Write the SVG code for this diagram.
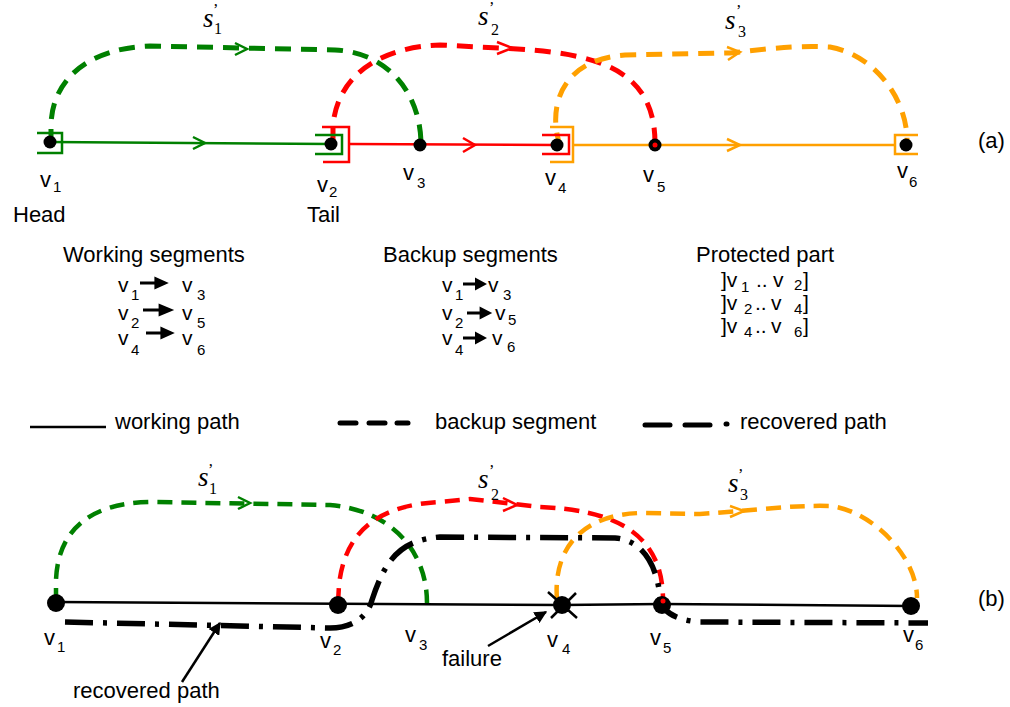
<svg xmlns="http://www.w3.org/2000/svg" width="1010" height="707" viewBox="0 0 1010 707">
<defs>
<style>
.t{font-family:"Liberation Sans",Arial,sans-serif;font-size:22px;fill:#000}
.tb{font-family:"Liberation Sans",Arial,sans-serif;font-size:21px;fill:#000}
.sub{font-size:15px}
.s{font-family:"Liberation Serif","Times New Roman",serif;font-style:italic;font-size:27px;fill:#000}
.ss{font-family:"Liberation Serif","Times New Roman",serif;font-size:16px;fill:#000}
.dot{fill:#000}
.w{fill:none;stroke-width:2.5}
.bk{fill:none;stroke-width:5;stroke-dasharray:16 10}
.bk2{fill:none;stroke-width:4.5;stroke-dasharray:15 9}
.chev{fill:none;stroke-width:2.5;stroke-linejoin:miter}
.br{fill:none;stroke-width:2.5}
.g{stroke:#008000}
.r{stroke:#ff0000}
.o{stroke:#ffa000}
.k{stroke:#000}
.rec{fill:none;stroke:#000;stroke-width:5.5;stroke-dasharray:28 10 4 10}
.ar{stroke:#000;fill:none}
</style>
<marker id="ah2" viewBox="0 0 10 10" refX="9" refY="5" markerWidth="5" markerHeight="5" orient="auto" markerUnits="strokeWidth">
<path d="M0,0 L10,5 L0,10 Z" fill="#000"/>
</marker>
<path id="tarr" d="M0,-1.6 H12 V-6.5 L24,0 L12,6.5 V1.6 H0 Z" fill="#000"/>
</defs>
<rect width="1010" height="707" fill="#fff"/>

<!-- ===== Part (a) ===== -->
<g id="connectors-a">
  <path class="w g" d="M50,142 L331,144"/>
  <path class="chev g" d="M193,137 L205,143 L193,149"/>
  <path class="w r" d="M349,144 L557,145"/>
  <path class="chev r" d="M463,138 L475,145 L463,152"/>
  <path class="w o" d="M573,145 L895,145"/>
  <path class="chev o" d="M727,139 L740,145 L727,151"/>
  <path class="bk g" d="M51,145 L51,125 C 52,80 88,48 150,46 L 335,50 C 385,52 420,90 421,143"/>
  <path class="chev g" d="M235,43 L247,49 L235,55"/>
  <path class="bk r" d="M333,143 L333,125 C 338,75 380,47 440,45 L 500,48 C 590,52 655,65 655,143"/>
  <path class="chev r" d="M497,42 L512,48 L497,54"/>
  <path class="bk o" d="M561,148 C 548,115 555,60 625,55 L 730,53 C 760,50 790,45 830,47 C 875,55 908,100 907,142"/>
  <path class="chev o" d="M727,47 L740,52 L728,60"/>
</g>

<g id="v1a">
  <path class="br g" d="M37,133 H62 V153 H37"/>
  <circle class="dot" cx="50" cy="142" r="6.5"/>
  <text class="t" x="40" y="187">v<tspan class="sub" x="53" y="192">1</tspan></text>
  <text class="t" x="13" y="222">Head</text>
</g>
<g id="v2a">
  <path class="br g" d="M315,135 H342 V154 H315"/>
  <path class="br r" d="M322,127 H349 V162 H323"/>
  <circle class="dot" cx="331" cy="144" r="6.5"/>
  <text class="t" x="317" y="192">v<tspan class="sub" x="329" y="197">2</tspan></text>
  <text class="t" x="307" y="222">Tail</text>
</g>
<g id="v3a">
  <circle class="dot" cx="420" cy="145" r="6.5"/>
  <text class="t" x="403" y="180">v<tspan class="sub" x="417" y="188">3</tspan></text>
</g>
<g id="v4a">
  <path class="br r" d="M542,135 H569 V154 H542"/>
  <path class="br o" d="M550,127 H573 V162 H550"/>
  <circle class="dot" cx="557" cy="145" r="6.5"/>
  <text class="t" x="545" y="185">v<tspan class="sub" x="558" y="193">4</tspan></text>
</g>
<g id="v5a">
  <circle class="dot" cx="655" cy="145" r="6.5"/>
  <circle cx="655" cy="145" r="2.5" fill="#ff0000"/>
  <text class="t" x="643" y="182">v<tspan class="sub" x="657" y="192">5</tspan></text>
</g>
<g id="v6a">
  <path class="br o" d="M918,135 H895 V154 H918"/>
  <circle class="dot" cx="906" cy="145" r="6.5"/>
  <text class="t" x="897" y="178">v<tspan class="sub" x="909" y="187">6</tspan></text>
</g>

<g id="labels-a">
  <text class="s" x="203" y="27">s</text><text class="ss" x="213" y="15">’</text><text class="ss" x="214" y="34">1</text>
  <text class="s" x="478" y="25">s</text><text class="ss" x="489" y="13">’</text><text class="ss" x="491" y="35">2</text>
  <text class="s" x="725" y="29">s</text><text class="ss" x="736" y="16">’</text><text class="ss" x="738" y="37">3</text>
  <text class="t" x="978" y="148">(a)</text>
</g>

<!-- ===== Table ===== -->
<g id="table">
  <text class="t" x="63" y="262">Working segments</text>
  <text class="t" x="383" y="262">Backup segments</text>
  <text class="t" x="696" y="262">Protected part</text>

  <text class="tb" x="118" y="292">v<tspan class="sub" x="131" y="300">1</tspan><tspan x="182" y="292">v</tspan><tspan class="sub" x="197" y="300">3</tspan></text>
  <text class="tb" x="118" y="320">v<tspan class="sub" x="131" y="328">2</tspan><tspan x="182" y="320">v</tspan><tspan class="sub" x="197" y="328">5</tspan></text>
  <text class="tb" x="118" y="345">v<tspan class="sub" x="131" y="355">4</tspan><tspan x="182" y="345">v</tspan><tspan class="sub" x="197" y="355">6</tspan></text>
  <use href="#tarr" transform="translate(140,283) scale(1.2,1)"/>
  <use href="#tarr" transform="translate(143,310) scale(1.3,1)"/>
  <use href="#tarr" transform="translate(146,333) scale(1.2,1)"/>

  <text class="tb" x="442" y="292">v<tspan class="sub" x="455" y="300">1</tspan><tspan x="488" y="292">v</tspan><tspan class="sub" x="503" y="300">3</tspan></text>
  <text class="tb" x="442" y="320">v<tspan class="sub" x="455" y="328">2</tspan><tspan x="495" y="320">v</tspan><tspan class="sub" x="508" y="325">5</tspan></text>
  <text class="tb" x="442" y="345">v<tspan class="sub" x="455" y="355">4</tspan><tspan x="492" y="345">v</tspan><tspan class="sub" x="507" y="352">6</tspan></text>
  <use href="#tarr" transform="translate(463,284)"/>
  <use href="#tarr" transform="translate(467,313) scale(1.05,1)"/>
  <use href="#tarr" transform="translate(463,338)"/>

  <text class="tb" x="721" y="287">]v<tspan class="sub" x="741" y="292">1</tspan><tspan x="756" y="287">..</tspan><tspan x="773" y="287">v</tspan><tspan class="sub" x="794" y="290">2</tspan><tspan x="803" y="287">]</tspan></text>
  <text class="tb" x="721" y="310">]v<tspan class="sub" x="744" y="314">2</tspan><tspan x="755" y="310">..</tspan><tspan x="771" y="310">v</tspan><tspan class="sub" x="794" y="314">4</tspan><tspan x="803" y="310">]</tspan></text>
  <text class="tb" x="721" y="333">]v<tspan class="sub" x="744" y="337">4</tspan><tspan x="755" y="333">..</tspan><tspan x="771" y="333">v</tspan><tspan class="sub" x="794" y="337">6</tspan><tspan x="803" y="333">]</tspan></text>
</g>

<!-- ===== Legend ===== -->
<g id="legend">
  <line x1="30" y1="427" x2="106" y2="427" stroke="#000" stroke-width="2.5"/>
  <text class="t" x="115" y="429">working path</text>
  <g stroke="#000" stroke-width="5" stroke-linecap="round">
    <line x1="340" y1="423" x2="356" y2="423"/>
    <line x1="369" y1="423" x2="385" y2="423"/>
    <line x1="397" y1="423" x2="408" y2="423"/>
  </g>
  <text class="t" x="435" y="429">backup segment</text>
  <g stroke="#000" stroke-width="5" stroke-linecap="round">
    <line x1="645" y1="425" x2="670" y2="425"/>
    <line x1="685" y1="425" x2="710" y2="425"/>
    <line x1="726" y1="424" x2="727" y2="424"/>
  </g>
  <text class="t" x="740" y="429">recovered path</text>
</g>

<!-- ===== Part (b) ===== -->
<g id="connectors-b">
  <path class="w k" d="M56,602 L562,605 L662,604 L911,606"/>
  <path class="bk2 g" d="M56,603 L56,580 C 58,530 90,503 150,502 L 330,505 C 390,510 427,550 427,603"/>
  <path class="chev g" d="M238,497 L250,503 L238,509"/>
  <path class="bk2 r" d="M338,603 L339,585 C 345,530 380,505 440,502 L 470,499 L 540,507 C 610,510 663,530 663,600"/>
  <path class="chev r" d="M503,498 L517,505 L503,511"/>
  <path class="bk2 o" d="M557,600 C 553,550 580,515 640,513 L 700,514 C 760,510 790,505 830,506 C 870,510 917,555 917,598"/>
  <path class="chev o" d="M730,506 L744,511 L730,517"/>
  <path class="rec" d="M65,622 L330,628 C 355,628 368,615 372,600 C 385,560 400,540 440,537 L 615,538 C 645,540 658,570 660,598 C 662,612 675,620 700,622 L 928,623"/>
  <line class="ar" x1="488" y1="646" x2="546" y2="612" stroke-width="2.5" marker-end="url(#ah2)"/>
  <line class="ar" x1="182" y1="682" x2="220" y2="623" stroke-width="2.5" marker-end="url(#ah2)"/>
</g>

<g id="v1b">
  <circle class="dot" cx="56" cy="603" r="9"/>
  <text class="t" x="44" y="645">v<tspan class="sub" x="57" y="652">1</tspan></text>
</g>
<g id="v2b">
  <circle class="dot" cx="338" cy="605" r="9"/>
  <text class="t" x="320" y="648">v<tspan class="sub" x="333" y="655">2</tspan></text>
</g>
<g id="v3b">
  <text class="t" x="405" y="642">v<tspan class="sub" x="419" y="650">3</tspan></text>
</g>
<g id="v4b">
  <circle class="dot" cx="562" cy="605" r="9"/>
  <path d="M548,592 L577,618 M576,593 L551,618" stroke="#000" stroke-width="2.5"/>
  <text class="t" x="547" y="647">v<tspan class="sub" x="562" y="654">4</tspan></text>
</g>
<g id="v5b">
  <circle class="dot" cx="662" cy="605" r="9"/>
  <circle cx="663" cy="601" r="2.5" fill="#ff0000"/>
  <text class="t" x="650" y="645">v<tspan class="sub" x="663" y="653">5</tspan></text>
</g>
<g id="v6b">
  <circle class="dot" cx="911" cy="606" r="9"/>
  <text class="t" x="903" y="642">v<tspan class="sub" x="915" y="650">6</tspan></text>
</g>

<g id="labels-b">
  <text class="s" x="198" y="486">s</text><text class="ss" x="208" y="475">’</text><text class="ss" x="209" y="494">1</text>
  <text class="s" x="478" y="488">s</text><text class="ss" x="489" y="476">’</text><text class="ss" x="491" y="500">2</text>
  <text class="s" x="728" y="492">s</text><text class="ss" x="738" y="480">’</text><text class="ss" x="740" y="500">3</text>
  <text class="t" x="978" y="606">(b)</text>
  <text class="t" x="442" y="666">failure</text>
  <text class="t" x="73" y="698">recovered path</text>
</g>
</svg>
